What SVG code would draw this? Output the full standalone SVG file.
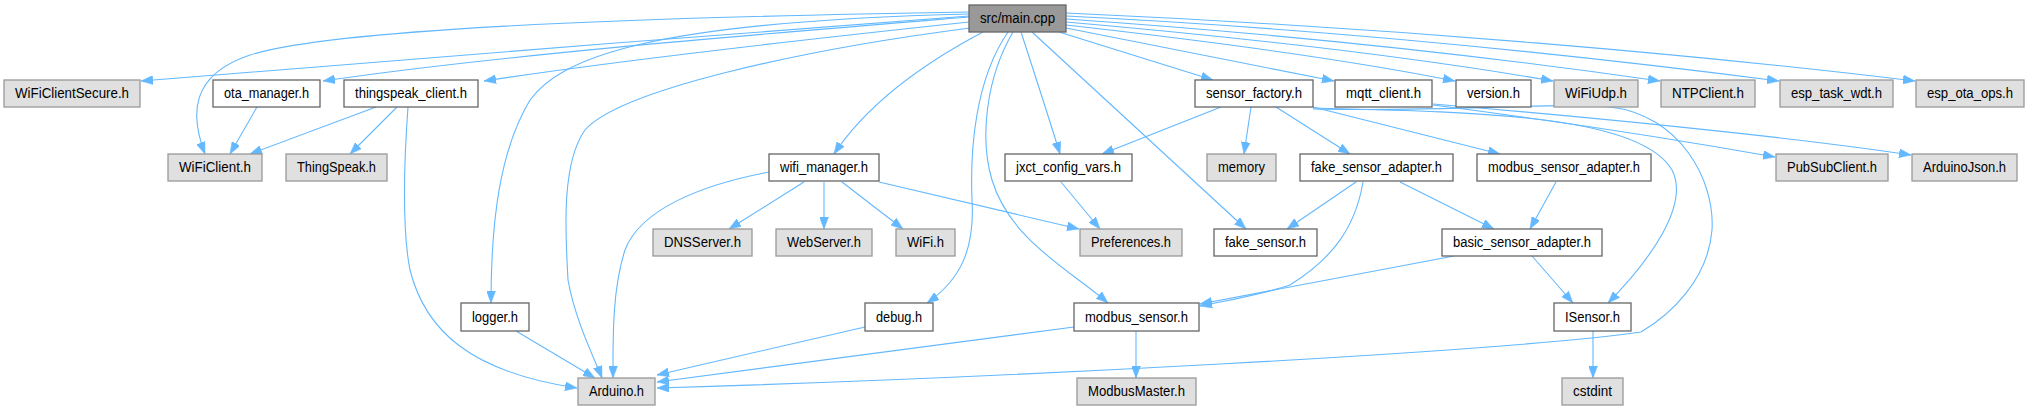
<svg xmlns="http://www.w3.org/2000/svg" width="2028" height="411" viewBox="0 0 2028 411">
<style>
.n rect{stroke-width:1.3}
.w rect{fill:#ffffff;stroke:#666666}
.g rect{fill:#e0e0e0;stroke:#999999}
.m rect{fill:#999999;stroke:#666666}
text{font-family:"Liberation Sans",Arial,sans-serif;font-size:14px;fill:#000000;text-anchor:middle}
#edges path{fill:none;stroke:#63b8ff;stroke-width:1.1;marker-end:url(#ah)}
</style>
<defs>
<marker id="ah" markerUnits="userSpaceOnUse" viewBox="0 0 12 9" refX="12" refY="4.5" markerWidth="12" markerHeight="9" orient="auto">
<path d="M0,0 L12,4.5 L0,9 z" fill="#63b8ff" stroke="#63b8ff" stroke-width="0.5"/>
</marker>
</defs>
<rect width="2028" height="411" fill="#ffffff"/>
<g id="edges">
<path d="M969,16 C700,36 400,60 141,81"/>
<path d="M969,17 C750,35 500,55 323,81"/>
<path d="M969,22 C800,40 620,60 484,81"/>
<path d="M969,12 C600,18 330,30 250,55 C190,75 190,115 205,154"/>
<path d="M969,14 C640,22 560,60 530,100 C500,150 491,220 491,303"/>
<path d="M970,28 C800,50 620,90 585,130 C560,165 566,240 568,280 C575,320 595,360 602,378"/>
<path d="M408,107 C404,160 402,230 410,270 C425,330 470,372 577,388"/>
<path d="M769,172 C700,185 640,210 625,250 C612,290 613,340 613,378"/>
<path d="M983,32 C930,60 870,100 834,154"/>
<path d="M1008,32 C975,80 970,150 972,200 C975,250 960,280 927,303"/>
<path d="M1013,32 C985,80 980,140 992,180 C1010,240 1070,270 1108,303"/>
<path d="M1021,32 C1035,75 1048,115 1060,154"/>
<path d="M1032,32 L1246,229"/>
<path d="M1059,32 L1213,80"/>
<path d="M1066,28 L1334,81"/>
<path d="M1066,25 C1200,40 1350,60 1455,81"/>
<path d="M1066,22 C1250,38 1420,58 1553,81"/>
<path d="M1066,19 C1300,35 1500,58 1660,81"/>
<path d="M1066,16 C1350,30 1600,58 1779,81"/>
<path d="M1066,13 C1400,28 1700,55 1915,81"/>
<path d="M257,107 L230,154"/>
<path d="M376,107 L250,154"/>
<path d="M397,107 L350,154"/>
<path d="M516,331 L595,378"/>
<path d="M865,327 L657,375"/>
<path d="M1074,327 L657,382"/>
<path d="M1136,331 L1136,378"/>
<path d="M1593,331 L1593,378"/>
<path d="M1221,107 L1102,154"/>
<path d="M1251,107 L1244,154"/>
<path d="M1276,107 L1350,154"/>
<path d="M1313,107 L1500,154"/>
<path d="M1313,108 C1480,112 1640,115 1672,170 C1690,205 1650,260 1608,303"/>
<path d="M1313,109 C1450,112 1560,102 1610,107 C1680,115 1715,180 1712,230 C1708,280 1670,315 1641,332 C1500,352 1000,378 657,388"/>
<path d="M1433,105 C1550,120 1680,140 1775,157"/>
<path d="M1433,104 C1600,118 1800,138 1911,155"/>
<path d="M1356,182 L1287,229"/>
<path d="M1363,182 C1355,230 1330,260 1290,285 C1260,295 1230,300 1200,306"/>
<path d="M1400,182 L1494,229"/>
<path d="M1556,182 L1530,229"/>
<path d="M1454,256 L1200,304"/>
<path d="M1532,256 L1573,303"/>
<path d="M804,182 L729,229"/>
<path d="M824,182 L824,229"/>
<path d="M842,182 L903,229"/>
<path d="M879,182 L1079,229"/>
<path d="M1061,182 L1100,229"/>
</g>
<g id="n_main" class="n m"><rect x="969" y="5" width="97" height="27"/><text x="1017.5" y="23.4" textLength="75" lengthAdjust="spacingAndGlyphs">src/main.cpp</text></g>
<g id="n_wificlientsecure" class="n g"><rect x="4" y="80" width="136" height="27"/><text x="72" y="98.4" textLength="114" lengthAdjust="spacingAndGlyphs">WiFiClientSecure.h</text></g>
<g id="n_ota_manager" class="n w"><rect x="213" y="80" width="107" height="27"/><text x="266.5" y="98.4" textLength="85" lengthAdjust="spacingAndGlyphs">ota_manager.h</text></g>
<g id="n_thingspeak_client" class="n w"><rect x="344" y="80" width="134" height="27"/><text x="411" y="98.4" textLength="112" lengthAdjust="spacingAndGlyphs">thingspeak_client.h</text></g>
<g id="n_sensor_factory" class="n w"><rect x="1195" y="80" width="118" height="27"/><text x="1254" y="98.4" textLength="96" lengthAdjust="spacingAndGlyphs">sensor_factory.h</text></g>
<g id="n_mqtt_client" class="n w"><rect x="1335" y="80" width="97" height="27"/><text x="1383.5" y="98.4" textLength="75" lengthAdjust="spacingAndGlyphs">mqtt_client.h</text></g>
<g id="n_version" class="n w"><rect x="1456" y="80" width="75" height="27"/><text x="1493.5" y="98.4" textLength="53" lengthAdjust="spacingAndGlyphs">version.h</text></g>
<g id="n_wifiudp" class="n g"><rect x="1554" y="80" width="84" height="27"/><text x="1596" y="98.4" textLength="62" lengthAdjust="spacingAndGlyphs">WiFiUdp.h</text></g>
<g id="n_ntpclient" class="n g"><rect x="1661" y="80" width="94" height="27"/><text x="1708" y="98.4" textLength="72" lengthAdjust="spacingAndGlyphs">NTPClient.h</text></g>
<g id="n_esp_task_wdt" class="n g"><rect x="1780" y="80" width="113" height="27"/><text x="1836.5" y="98.4" textLength="91" lengthAdjust="spacingAndGlyphs">esp_task_wdt.h</text></g>
<g id="n_esp_ota_ops" class="n g"><rect x="1916" y="80" width="108" height="27"/><text x="1970" y="98.4" textLength="86" lengthAdjust="spacingAndGlyphs">esp_ota_ops.h</text></g>
<g id="n_wificlient" class="n g"><rect x="168" y="154" width="94" height="27"/><text x="215" y="172.4" textLength="72" lengthAdjust="spacingAndGlyphs">WiFiClient.h</text></g>
<g id="n_thingspeak" class="n g"><rect x="286" y="154" width="101" height="27"/><text x="336.5" y="172.4" textLength="79" lengthAdjust="spacingAndGlyphs">ThingSpeak.h</text></g>
<g id="n_wifi_manager" class="n w"><rect x="769" y="154" width="110" height="27"/><text x="824" y="172.4" textLength="88" lengthAdjust="spacingAndGlyphs">wifi_manager.h</text></g>
<g id="n_jxct_config_vars" class="n w"><rect x="1005" y="154" width="127" height="27"/><text x="1068.5" y="172.4" textLength="105" lengthAdjust="spacingAndGlyphs">jxct_config_vars.h</text></g>
<g id="n_memory" class="n g"><rect x="1207" y="154" width="69" height="27"/><text x="1241.5" y="172.4" textLength="47" lengthAdjust="spacingAndGlyphs">memory</text></g>
<g id="n_fake_sensor_adapter" class="n w"><rect x="1300" y="154" width="153" height="27"/><text x="1376.5" y="172.4" textLength="131" lengthAdjust="spacingAndGlyphs">fake_sensor_adapter.h</text></g>
<g id="n_modbus_sensor_adapter" class="n w"><rect x="1477" y="154" width="174" height="27"/><text x="1564" y="172.4" textLength="152" lengthAdjust="spacingAndGlyphs">modbus_sensor_adapter.h</text></g>
<g id="n_pubsubclient" class="n g"><rect x="1776" y="154" width="112" height="27"/><text x="1832" y="172.4" textLength="90" lengthAdjust="spacingAndGlyphs">PubSubClient.h</text></g>
<g id="n_arduinojson" class="n g"><rect x="1912" y="154" width="105" height="27"/><text x="1964.5" y="172.4" textLength="83" lengthAdjust="spacingAndGlyphs">ArduinoJson.h</text></g>
<g id="n_dnsserver" class="n g"><rect x="653" y="229" width="99" height="27"/><text x="702.5" y="247.4" textLength="77" lengthAdjust="spacingAndGlyphs">DNSServer.h</text></g>
<g id="n_webserver" class="n g"><rect x="776" y="229" width="96" height="27"/><text x="824" y="247.4" textLength="74" lengthAdjust="spacingAndGlyphs">WebServer.h</text></g>
<g id="n_wifi" class="n g"><rect x="896" y="229" width="59" height="27"/><text x="925.5" y="247.4" textLength="37" lengthAdjust="spacingAndGlyphs">WiFi.h</text></g>
<g id="n_preferences" class="n g"><rect x="1080" y="229" width="102" height="27"/><text x="1131" y="247.4" textLength="80" lengthAdjust="spacingAndGlyphs">Preferences.h</text></g>
<g id="n_fake_sensor" class="n w"><rect x="1214" y="229" width="103" height="27"/><text x="1265.5" y="247.4" textLength="81" lengthAdjust="spacingAndGlyphs">fake_sensor.h</text></g>
<g id="n_basic_sensor_adapter" class="n w"><rect x="1442" y="229" width="160" height="27"/><text x="1522" y="247.4" textLength="138" lengthAdjust="spacingAndGlyphs">basic_sensor_adapter.h</text></g>
<g id="n_logger" class="n w"><rect x="461" y="303" width="68" height="28"/><text x="495" y="321.9" textLength="46" lengthAdjust="spacingAndGlyphs">logger.h</text></g>
<g id="n_debug" class="n w"><rect x="865" y="303" width="68" height="28"/><text x="899" y="321.9" textLength="46" lengthAdjust="spacingAndGlyphs">debug.h</text></g>
<g id="n_modbus_sensor" class="n w"><rect x="1074" y="303" width="125" height="28"/><text x="1136.5" y="321.9" textLength="103" lengthAdjust="spacingAndGlyphs">modbus_sensor.h</text></g>
<g id="n_isensor" class="n w"><rect x="1554" y="303" width="77" height="28"/><text x="1592.5" y="321.9" textLength="55" lengthAdjust="spacingAndGlyphs">ISensor.h</text></g>
<g id="n_arduino" class="n g"><rect x="578" y="378" width="77" height="27"/><text x="616.5" y="396.4" textLength="55" lengthAdjust="spacingAndGlyphs">Arduino.h</text></g>
<g id="n_modbusmaster" class="n g"><rect x="1077" y="378" width="119" height="27"/><text x="1136.5" y="396.4" textLength="97" lengthAdjust="spacingAndGlyphs">ModbusMaster.h</text></g>
<g id="n_cstdint" class="n g"><rect x="1562" y="378" width="61" height="27"/><text x="1592.5" y="396.4" textLength="39" lengthAdjust="spacingAndGlyphs">cstdint</text></g>
</svg>
